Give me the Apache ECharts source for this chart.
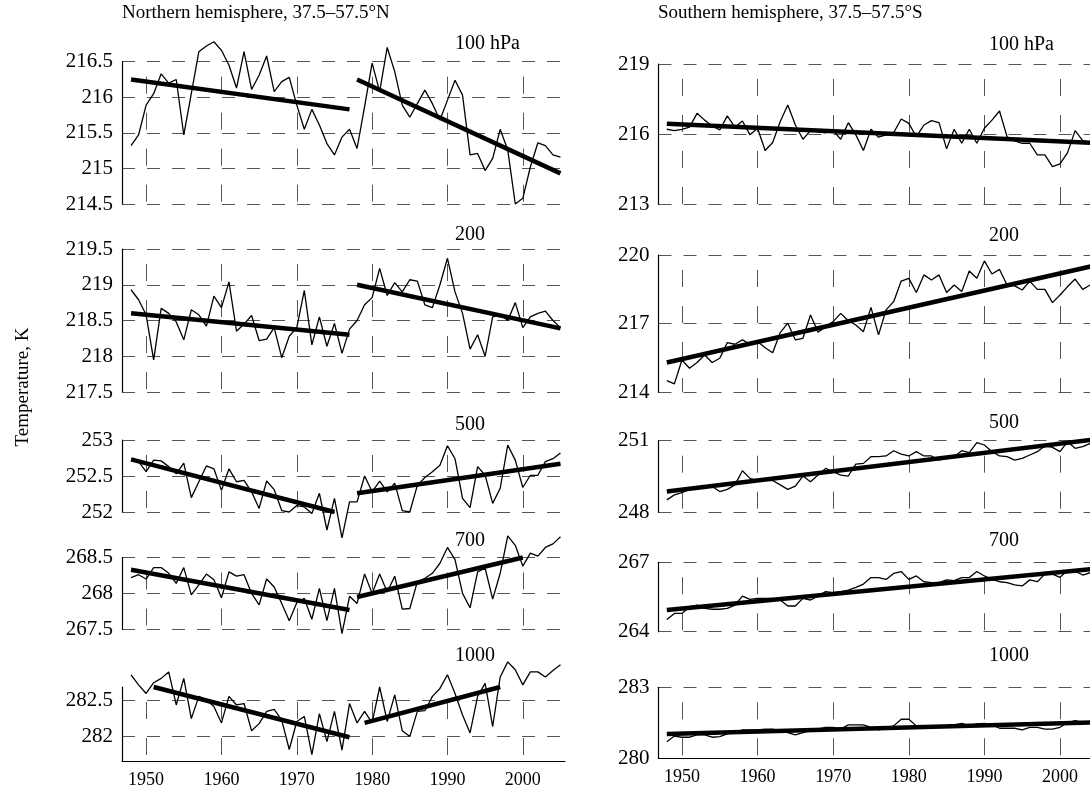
<!DOCTYPE html>
<html>
<head>
<meta charset="utf-8">
<script src="https://cdn.jsdelivr.net/npm/echarts@6/dist/echarts.min.js"></script>
<style>
  html, body { margin: 0; padding: 0; background: #fff; }
  #chart { width: 1090px; height: 791px; }
</style>
</head>
<body>
<div id="chart"></div>
<script>
// annual means, 1948-2005
const years = [1948, 1949, 1950, 1951, 1952, 1953, 1954, 1955, 1956, 1957,
  1958, 1959, 1960, 1961, 1962, 1963, 1964, 1965, 1966, 1967,
  1968, 1969, 1970, 1971, 1972, 1973, 1974, 1975, 1976, 1977,
  1978, 1979, 1980, 1981, 1982, 1983, 1984, 1985, 1986, 1987,
  1988, 1989, 1990, 1991, 1992, 1993, 1994, 1995, 1996, 1997,
  1998, 1999, 2000, 2001, 2002, 2003, 2004, 2005]

// Northern hemisphere
const nh100 = [215.32, 215.47, 215.89, 216.05, 216.33, 216.2, 216.25, 215.47, 216.05, 216.64,
  216.72, 216.78, 216.66, 216.45, 216.13, 216.64, 216.11, 216.31, 216.58, 216.08,
  216.22, 216.28, 215.89, 215.55, 215.83, 215.61, 215.35, 215.19, 215.44, 215.55,
  215.28, 215.87, 216.48, 216.08, 216.7, 216.36, 215.89, 215.72, 215.91, 216.1,
  215.91, 215.68, 215.96, 216.24, 216.03, 215.19, 215.21, 214.97, 215.14, 215.55,
  215.26, 214.5, 214.58, 215.02, 215.36, 215.32, 215.19, 215.16]
const nh200 = [218.93, 218.79, 218.58, 217.95, 218.67, 218.6, 218.48, 218.23, 218.65, 218.58,
  218.42, 218.84, 218.68, 219.04, 218.35, 218.45, 218.57, 218.22, 218.24, 218.4,
  217.98, 218.28, 218.4, 218.92, 218.16, 218.55, 218.14, 218.46, 218.04, 218.38,
  218.5, 218.72, 218.82, 219.23, 218.85, 219.03, 218.9, 219.07, 219.05, 218.72,
  218.68, 219.0, 219.37, 218.9, 218.6, 218.1, 218.3, 218.0, 218.55, 218.58,
  218.5, 218.75, 218.4, 218.55, 218.6, 218.63, 218.5, 218.4]
const nh500 = [252.72, 252.7, 252.56, 252.72, 252.71, 252.63, 252.53, 252.68, 252.2, 252.42,
  252.64, 252.6, 252.3, 252.6, 252.42, 252.44, 252.28, 252.05, 252.43, 252.31,
  252.02, 252.0, 252.09, 252.07, 251.98, 252.26, 251.75, 252.19, 251.64, 252.14,
  252.14, 252.5, 252.28, 252.43, 252.28, 252.4, 252.02, 252.0, 252.37, 252.48,
  252.56, 252.65, 252.92, 252.74, 252.19, 252.06, 252.63, 252.51, 252.12, 252.33,
  252.93, 252.72, 252.34, 252.51, 252.51, 252.7, 252.74, 252.82]
const nh700 = [268.22, 268.26, 268.2, 268.36, 268.36, 268.28, 268.14, 268.36, 267.98, 268.12,
  268.27, 268.19, 267.94, 268.3, 268.24, 268.26, 268.0, 267.84, 268.2, 268.09,
  267.86, 267.62, 267.87, 267.93, 267.64, 268.07, 267.62, 268.07, 267.44, 267.96,
  267.86, 268.27, 268.0, 268.27, 268.02, 268.24, 267.78, 267.79, 268.16, 268.21,
  268.28, 268.42, 268.64, 268.47, 268.0, 267.8, 268.3, 268.35, 267.92, 268.28,
  268.8, 268.67, 268.38, 268.56, 268.52, 268.64, 268.69, 268.79]
const nh1000 = [282.86, 282.72, 282.6, 282.75, 282.81, 282.9, 282.44, 282.81, 282.25, 282.56,
  282.51, 282.42, 282.19, 282.56, 282.44, 282.46, 282.08, 282.18, 282.35, 282.38,
  282.23, 281.82, 282.21, 282.28, 281.75, 282.32, 281.93, 282.35, 281.81, 282.46,
  282.19, 282.35, 282.19, 282.69, 282.21, 282.58, 282.08, 282.0, 282.35, 282.36,
  282.56, 282.67, 282.86, 282.6, 282.3, 282.05, 282.56, 282.74, 282.14, 282.83,
  283.04, 282.93, 282.72, 282.9, 282.9, 282.83, 282.92, 283.0]

// Southern hemisphere
const sh100 = [216.21, 216.15, 216.2, 216.3, 216.89, 216.6, 216.35, 216.18, 216.78, 216.3,
  216.56, 215.97, 216.25, 215.3, 215.64, 216.54, 217.25, 216.39, 215.78, 216.15,
  216.1, 216.06, 216.15, 215.78, 216.49, 215.97, 215.3, 216.21, 215.87, 215.97,
  216.06, 216.65, 216.46, 215.89, 216.39, 216.58, 216.49, 215.37, 216.21, 215.61,
  216.21, 215.61, 216.25, 216.6, 216.99, 215.89, 215.71, 215.61, 215.61, 215.11,
  215.11, 214.61, 214.73, 215.21, 216.15, 215.72, 215.64, 215.6]
const sh200 = [214.51, 214.37, 215.41, 215.05, 215.3, 215.63, 215.3, 215.49, 216.17, 216.1,
  216.29, 216.1, 216.22, 215.95, 215.73, 216.61, 217.02, 216.29, 216.36, 217.38,
  216.62, 216.87, 217.09, 217.45, 217.13, 216.94, 216.65, 217.71, 216.51, 217.6,
  217.96, 218.86, 218.98, 218.36, 219.13, 218.91, 219.13, 218.36, 218.69, 218.4,
  219.3, 218.98, 219.74, 219.17, 219.37, 218.69, 218.65, 218.47, 218.86, 218.5,
  218.5, 217.92, 218.25, 218.62, 218.95, 218.5, 218.69, 218.8]
const sh500 = [248.52, 248.73, 248.82, 248.96, 249.0, 249.05, 249.08, 248.87, 248.96, 249.15,
  249.74, 249.42, 249.33, 249.35, 249.33, 249.15, 248.96, 249.1, 249.52, 249.28,
  249.56, 249.84, 249.7, 249.56, 249.52, 250.02, 250.05, 250.33, 250.33, 250.36,
  250.58, 250.44, 250.36, 250.54, 250.36, 250.36, 250.19, 250.3, 250.33, 250.58,
  250.5, 250.92, 250.82, 250.54, 250.36, 250.33, 250.19, 250.26, 250.4, 250.54,
  250.78, 250.72, 250.54, 250.96, 250.68, 250.75, 250.89, 250.95]
const sh700 = [264.53, 264.79, 264.79, 265.08, 265.15, 265.01, 264.97, 264.97, 265.01, 265.15,
  265.54, 265.4, 265.44, 265.44, 265.44, 265.37, 265.11, 265.11, 265.44, 265.37,
  265.54, 265.73, 265.69, 265.73, 265.8, 265.92, 266.06, 266.34, 266.34, 266.26,
  266.52, 266.6, 266.26, 266.41, 266.16, 266.12, 266.12, 266.24, 266.21, 266.34,
  266.34, 266.6, 266.41, 266.26, 266.16, 266.12, 266.02, 265.98, 266.24, 266.16,
  266.49, 266.49, 266.35, 266.64, 266.62, 266.45, 266.55, 266.6]
const sh1000 = [280.7, 280.94, 280.89, 280.89, 280.99, 280.99, 280.89, 280.92, 281.03, 281.08,
  281.2, 281.2, 281.2, 281.23, 281.23, 281.17, 281.08, 280.99, 281.08, 281.17,
  281.23, 281.31, 281.31, 281.23, 281.41, 281.41, 281.41, 281.31, 281.2, 281.27,
  281.37, 281.65, 281.65, 281.37, 281.31, 281.37, 281.34, 281.37, 281.41, 281.48,
  281.37, 281.45, 281.48, 281.41, 281.27, 281.27, 281.27, 281.2, 281.31, 281.31,
  281.23, 281.23, 281.31, 281.51, 281.59, 281.51, 281.48, 281.5]

// linear trends: [year, value] end points
const nhTrend100 = [[[1948, 216.25], [1977, 215.83]], [[1978, 216.25], [2005, 214.93]]]
const nhTrend200 = [[[1948, 218.6], [1977, 218.3]], [[1978, 219.0], [2005, 218.39]]]
const nhTrend500 = [[[1948, 252.73], [1975, 252.0]], [[1978, 252.26], [2005, 252.67]]]
const nhTrend700 = [[[1948, 268.33], [1977, 267.77]], [[1978, 267.95], [2000, 268.5]]]
const nhTrend1000 = [[[1951, 282.69], [1977, 281.99]], [[1979, 282.19], [1997, 282.69]]]
const shTrend100 = [[[1948, 216.45], [2005, 215.62]]]
const shTrend200 = [[[1948, 215.3], [2005, 219.57]]]
const shTrend500 = [[[1948, 248.87], [2005, 251.07]]]
const shTrend700 = [[[1948, 264.94], [2005, 266.73]]]
const shTrend1000 = [[[1948, 281.03], [2005, 281.52]]]

// tick labels
const decades = [1950, 1960, 1970, 1980, 1990, 2000]
const nhTicks100 = [214.5, 215, 215.5, 216, 216.5]
const nhTicks200 = [217.5, 218, 218.5, 219, 219.5]
const nhTicks500 = [252, 252.5, 253]
const nhTicks700 = [267.5, 268, 268.5]
const nhTicks1000 = [282, 282.5]
const shTicks100 = [213, 216, 219]
const shTicks200 = [214, 217, 220]
const shTicks500 = [248, 251]
const shTicks700 = [264, 267]
const shTicks1000 = [280, 283]
const levelNames = ['100 hPa', '200', '500', '700', '1000']

const SERIF = '"Liberation Serif", "DejaVu Serif", serif'

const columns = [
  { left: 122, width: 443, min: 1946.8, max: 2005.6, labelX: 455 },
  { left: 658.5, width: 462, min: 1946.9, max: 2008, labelX: 989 }
]

const panels = [
  { col: 0, top: 61.7, height: 142.3, min: 214.5, max: 216.5, data: nh100, trends: nhTrend100, ticks: nhTicks100, labelY: 44 },
  { col: 0, top: 249, height: 143, min: 217.5, max: 219.5, data: nh200, trends: nhTrend200, ticks: nhTicks200, labelY: 235 },
  { col: 0, top: 440, height: 72, min: 252, max: 253, data: nh500, trends: nhTrend500, ticks: nhTicks500, labelY: 425 },
  { col: 0, top: 557.5, height: 71.8, min: 267.5, max: 268.5, data: nh700, trends: nhTrend700, ticks: nhTicks700, labelY: 541 },
  { col: 0, top: 687, height: 74, min: 281.66, max: 282.69, data: nh1000, trends: nhTrend1000, ticks: nhTicks1000, labelY: 656 },
  { col: 1, top: 64, height: 140.3, min: 213, max: 219, data: sh100, trends: shTrend100, ticks: shTicks100, labelY: 45 },
  { col: 1, top: 255, height: 137.3, min: 214, max: 220, data: sh200, trends: shTrend200, ticks: shTicks200, labelY: 236 },
  { col: 1, top: 440.7, height: 71.6, min: 248, max: 251, data: sh500, trends: shTrend500, ticks: shTicks500, labelY: 423 },
  { col: 1, top: 562.3, height: 69.4, min: 264, max: 267, data: sh700, trends: shTrend700, ticks: shTicks700, labelY: 541 },
  { col: 1, top: 687.3, height: 71, min: 280, max: 283, data: sh1000, trends: shTrend1000, ticks: shTicks1000, labelY: 656 }
]

const grid = []
const xAxis = []
const yAxis = []
const series = []
const graphic = []

panels.forEach((p, i) => {
  const c = columns[p.col]
  const isBottom = i % 5 === 4
  // right column runs past the canvas edge, as in the original
  grid.push({
    left: c.left, top: p.top, width: c.width, height: p.height,
    containLabel: false, outerBoundsMode: 'none'
  })

  xAxis.push({
    type: 'value',
    gridIndex: i,
    min: c.min,
    max: c.max,
    axisLine: { show: isBottom, onZero: false, lineStyle: { color: '#000', width: 1.2 } },
    axisTick: { show: false, customValues: decades },
    axisLabel: {
      show: isBottom,
      customValues: decades,
      formatter: v => String(v),
      margin: 10,
      color: '#000',
      fontFamily: SERIF,
      fontSize: 18
    },
    splitLine: {
      show: true,
      lineStyle: { color: '#555', width: 1, type: [17, 19], dashOffset: 21 }
    }
  })

  yAxis.push({
    type: 'value',
    gridIndex: i,
    min: p.min,
    max: p.max,
    axisLine: { show: true, onZero: false, lineStyle: { color: '#000', width: 1.2 } },
    axisTick: { show: false, customValues: p.ticks },
    axisLabel: {
      customValues: p.ticks,
      formatter: v => String(v),
      margin: 9,
      color: '#000',
      fontFamily: SERIF,
      fontSize: 21
    },
    splitLine: {
      show: true,
      lineStyle: { color: '#555', width: 1, type: [13, 12] }
    }
  })

  series.push({
    type: 'line',
    xAxisIndex: i,
    yAxisIndex: i,
    data: years.map((y, k) => [y, p.data[k]]),
    symbol: 'none',
    clip: false,
    lineStyle: { color: '#000', width: 1.3 },
    z: 3
  })

  p.trends.forEach(t => {
    series.push({
      type: 'line',
      xAxisIndex: i,
      yAxisIndex: i,
      data: t,
      symbol: 'none',
      clip: false,
      lineStyle: { color: '#000', width: 4.5 },
      z: 4
    })
  })

  graphic.push({
    type: 'text',
    x: c.labelX,
    y: p.labelY,
    style: {
      text: levelNames[i % 5],
      font: '20px ' + SERIF,
      fill: '#000',
      align: 'left', textAlign: 'left',
      verticalAlign: 'middle', textVerticalAlign: 'middle'
    }
  })
})

graphic.push(
  {
    type: 'text', x: 122, y: 13,
    style: {
      text: 'Northern hemisphere, 37.5–57.5°N', font: '19px ' + SERIF, fill: '#000',
      align: 'left', textAlign: 'left', verticalAlign: 'middle', textVerticalAlign: 'middle'
    }
  },
  {
    type: 'text', x: 658, y: 13,
    style: {
      text: 'Southern hemisphere, 37.5–57.5°S', font: '19px ' + SERIF, fill: '#000',
      align: 'left', textAlign: 'left', verticalAlign: 'middle', textVerticalAlign: 'middle'
    }
  },
  {
    type: 'text', x: 23, y: 387, rotation: Math.PI / 2,
    style: {
      text: 'Temperature, K', font: '19px ' + SERIF, fill: '#000',
      align: 'center', textAlign: 'center', verticalAlign: 'middle', textVerticalAlign: 'middle'
    }
  }
)

const chart = echarts.init(document.getElementById('chart'), null, { renderer: 'canvas' })
chart.setOption({
  animation: false,
  backgroundColor: '#fff',
  grid,
  xAxis,
  yAxis,
  series,
  graphic
})
</script>
</body>
</html>
